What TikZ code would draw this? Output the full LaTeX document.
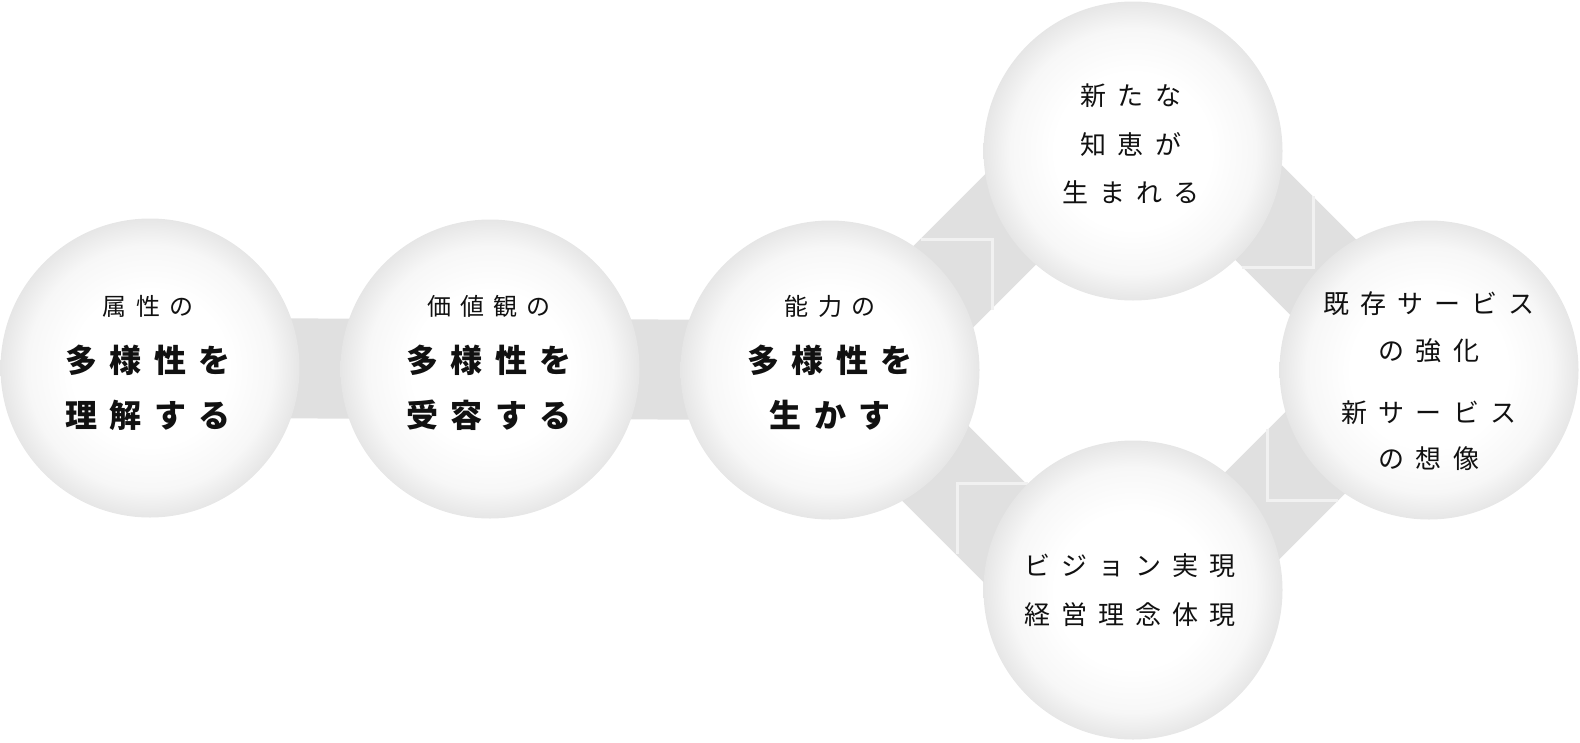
\documentclass[tikz,border=0pt]{standalone}
\usepackage{fontspec}
\newfontfamily\jp{Noto Sans CJK JP}
\definecolor{bandgray}{HTML}{E0E0E0}
\definecolor{chevwhite}{HTML}{F1F1F1}
\definecolor{ballmid}{HTML}{F7F7F7}
\definecolor{balledge}{HTML}{E6E6E6}
\definecolor{txt}{HTML}{111111}
\pgfdeclareradialshading{ball}{\pgfpoint{0bp}{0bp}}{color(0bp)=(white); color(13bp)=(white); color(20.5bp)=(ballmid); color(25bp)=(balledge); color(50bp)=(balledge)}
\newcommand\lsp{\kern0.38em}
\newcommand\rsp{\kern0.43em}
\tikzset{
  ball/.style={circle, minimum size=299pt, inner sep=0pt, shading=ball},
  bandline/.style={draw=bandgray, line width=100pt},
  chevron/.style={draw=chevwhite, line width=3pt},
  smalltxt/.style={font=\jp\fontsize{24}{24}\selectfont, text=txt, inner sep=0pt},
  bigtxt/.style={font=\jp\bfseries\fontsize{32}{32}\selectfont, text=txt, inner sep=0pt},
  regtxt/.style={font=\jp\fontsize{26}{26}\selectfont, text=txt, inner sep=0pt}
}
\begin{document}
\begin{tikzpicture}[x=1pt,y=-1pt]
\useasboundingbox (0,0) rectangle (1580,742);
% circle positions
\coordinate (p1) at (150,368);
\coordinate (p2) at (490,369);
\coordinate (p3) at (830,370);
\coordinate (p4) at (1133,151);
\coordinate (p5) at (1429,370);
\coordinate (p6) at (1133,590);
% diagonal band ends
\coordinate (a1) at (860,370);  \coordinate (a2) at (1130,100);
\coordinate (b1) at (1160,114); \coordinate (b2) at (1400,354);
\coordinate (e1) at (860,388);  \coordinate (e2) at (1100,628);
\coordinate (d1) at (1400,368); \coordinate (d2) at (1160,608);
% bands
\draw[bandline] (p1) -- (p2);
\draw[bandline] (p2) -- (p3);
\draw[bandline] (a1) -- (a2);
\draw[bandline] (b1) -- (b2);
\draw[bandline] (e1) -- (e2);
\draw[bandline] (d1) -- (d2);
% chevrons
\draw[chevron] (921,239) -- (992,239) -- (992,310);
\draw[chevron] (1313,196) -- (1313,267) -- (1242,267);
\draw[chevron] (957,554) -- (957,483) -- (1028,483);
\draw[chevron] (1267,429) -- (1267,500) -- (1338,500);
% circles
\node[ball] (c1) at (p1) {};
\node[ball] (c2) at (p2) {};
\node[ball] (c3) at (p3) {};
\node[ball] (c4) at (p4) {};
\node[ball] (c5) at (p5) {};
\node[ball] (c6) at (p6) {};
% texts circle 1
\node[smalltxt] (t1a) at (148,306) {属\lsp 性\lsp の};
\node[bigtxt] (t1b) at (148,360) {多\lsp 様\lsp 性\lsp を};
\node[bigtxt] (t1c) at (148,415) {理\lsp 解\lsp す\lsp る};
% circle 2
\node[smalltxt] (t2a) at (489,306) {価\lsp 値\lsp 観\lsp の};
\node[bigtxt] (t2b) at (489,360) {多\lsp 様\lsp 性\lsp を};
\node[bigtxt] (t2c) at (489,415) {受\lsp 容\lsp す\lsp る};
% circle 3
\node[smalltxt] (t3a) at (830,306) {能\lsp 力\lsp の};
\node[bigtxt] (t3b) at (830,360) {多\lsp 様\lsp 性\lsp を};
\node[bigtxt] (t3c) at (830,415) {生\lsp か\lsp す};
% circle 4
\node[regtxt] (t4a) at (1131,96) {新\rsp た\rsp な};
\node[regtxt] (t4b) at (1131,144) {知\rsp 恵\rsp が};
\node[regtxt] (t4c) at (1131,192) {生\rsp ま\rsp れ\rsp る};
% circle 5
\node[regtxt] (t5a) at (1429,304) {既\rsp 存\rsp サ\rsp ー\rsp ビ\rsp ス};
\node[regtxt] (t5b) at (1429,351) {の\rsp 強\rsp 化};
\node[regtxt] (t5c) at (1429,413) {新\rsp サ\rsp ー\rsp ビ\rsp ス};
\node[regtxt] (t5d) at (1429,459) {の\rsp 想\rsp 像};
% circle 6
\node[regtxt] (t6a) at (1130,566) {ビ\rsp ジ\rsp ョ\rsp ン\rsp 実\rsp 現};
\node[regtxt] (t6b) at (1130,615) {経\rsp 営\rsp 理\rsp 念\rsp 体\rsp 現};
\end{tikzpicture}
\end{document}
